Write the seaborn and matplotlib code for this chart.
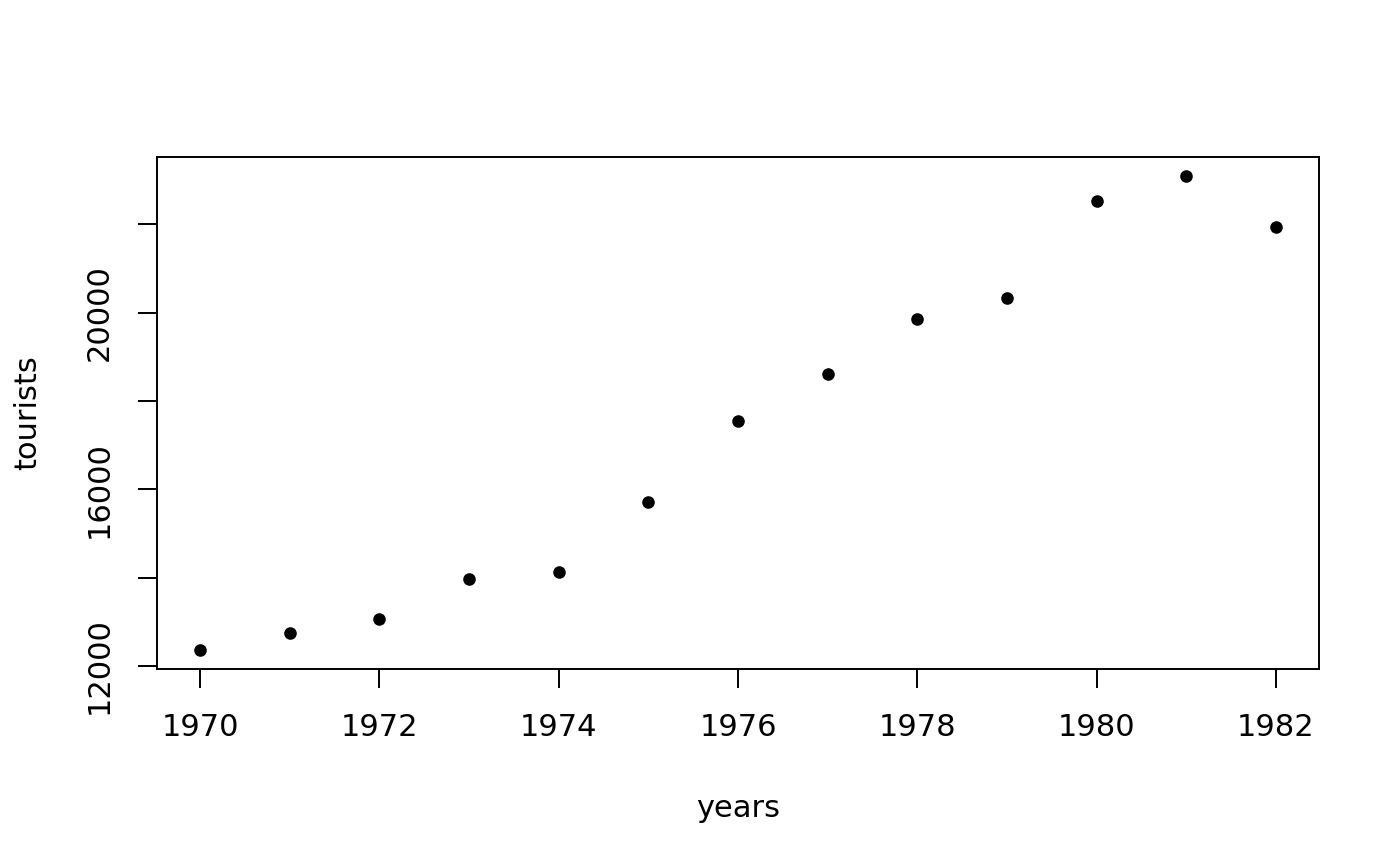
import pandas as pd
import seaborn as sns
import matplotlib.pyplot as plt

# tourist counts per year
years = [1970, 1971, 1972, 1973, 1974, 1975, 1976, 1977, 1978, 1979, 1980, 1981, 1982]
tourists = [12361, 12746, 13062, 13966, 14124, 15706, 17537, 18621, 19864, 20339, 22531, 23096, 21944]

x_ticks = [1970, 1972, 1974, 1976, 1978, 1980, 1982]
y_ticks = [12000, 14000, 16000, 18000, 20000, 22000]
y_labels = ['12000', '', '16000', '', '20000', '']

df = pd.DataFrame({'years': years, 'tourists': tourists})

sns.set_style('white')
plt.rcParams['font.family'] = ['DejaVu Sans']
for key in ['text.color', 'axes.labelcolor', 'xtick.color', 'ytick.color']:
    plt.rcParams[key] = 'black'

fig = plt.figure(figsize=(14, 8.66), dpi=100)
ax = fig.add_axes([0.1121, 0.2275, 0.83, 0.5912])

sns.scatterplot(data=df, x='years', y='tourists', ax=ax, color='black',
                s=82, linewidth=0, legend=False)

ax.set_xlim(1969.52, 1982.48)
ax.set_ylim(11932, 23525)
ax.set_xticks(x_ticks)
ax.set_xticklabels([str(t) for t in x_ticks])
ax.set_yticks(y_ticks)
ax.set_yticklabels(y_labels, rotation=90, va='center')

ax.tick_params(axis='both', direction='out', length=14, width=1.4, color='black',
               labelsize=22, left=True, bottom=True)
ax.tick_params(axis='x', pad=18)
ax.tick_params(axis='y', pad=17)
for sp in ax.spines.values():
    sp.set_visible(True)
    sp.set_color('black')
    sp.set_linewidth(1.4)

ax.set_xlabel('years', fontsize=22, labelpad=37)
ax.set_ylabel('tourists', fontsize=22, labelpad=31)

fig.savefig('out.png', dpi=100)
